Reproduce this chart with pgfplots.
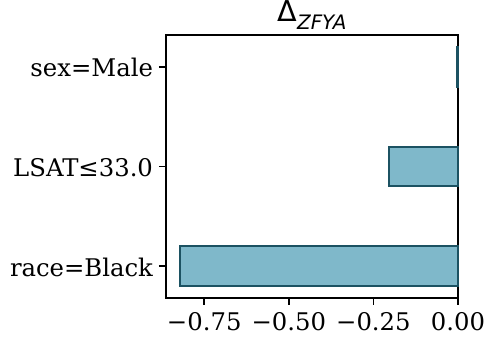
\documentclass[border=0pt]{standalone}
\usepackage{fontspec}
\setmainfont{DejaVu Serif}
\newfontfamily\titlefont{DejaVu Sans}
\usepackage{pgfplots}
\pgfplotsset{compat=1.18}
\definecolor{barfill}{RGB}{127,184,202}
\definecolor{baredge}{RGB}{28,82,98}
\begin{document}
\begin{tikzpicture}
\begin{axis}[
  at={(0,0)}, anchor=south west,
  scale only axis,
  width=146bp, height=131.5bp,
  xmin=-0.863, xmax=0,
  ymin=-0.32, ymax=2.32,
  xbar, bar width=0.4, bar shift=0pt,
  xtick={-0.75,-0.5,-0.25,0},
  xticklabels={−0.75,−0.50,−0.25,0.00},
  ytick={0,1,2},
  yticklabels={race=Black,LSAT≤33.0,sex=Male},
  tick align=outside,
  xtick pos=bottom, ytick pos=left,
  major tick length=3.5bp,
  tick style={line width=0.8bp, black},
  axis line style={line width=0.8bp},
  tick label style={font=\fontsize{12.2}{14}\selectfont},
  xticklabel style={yshift=0bp},
  yticklabel style={xshift=0.5bp, yshift=-0.5bp},
  clip=false,
]
\addplot[fill=barfill, draw=baredge, line width=1bp] coordinates {
  (-0.822,0) (-0.203,1) (-0.002,2)
};
\node[anchor=base, yshift=6.5bp, inner sep=0pt] at (rel axis cs:0.5,1)
  {\titlefont\fontsize{14.4}{16}\selectfont Δ\raisebox{-0.25em}{\fontsize{10}{12}\selectfont\itshape ZFYA}};
\end{axis}
\pgfresetboundingbox
\path[use as bounding box] (-83bp,-21bp) rectangle (160bp,149bp);
\end{tikzpicture}
\end{document}
